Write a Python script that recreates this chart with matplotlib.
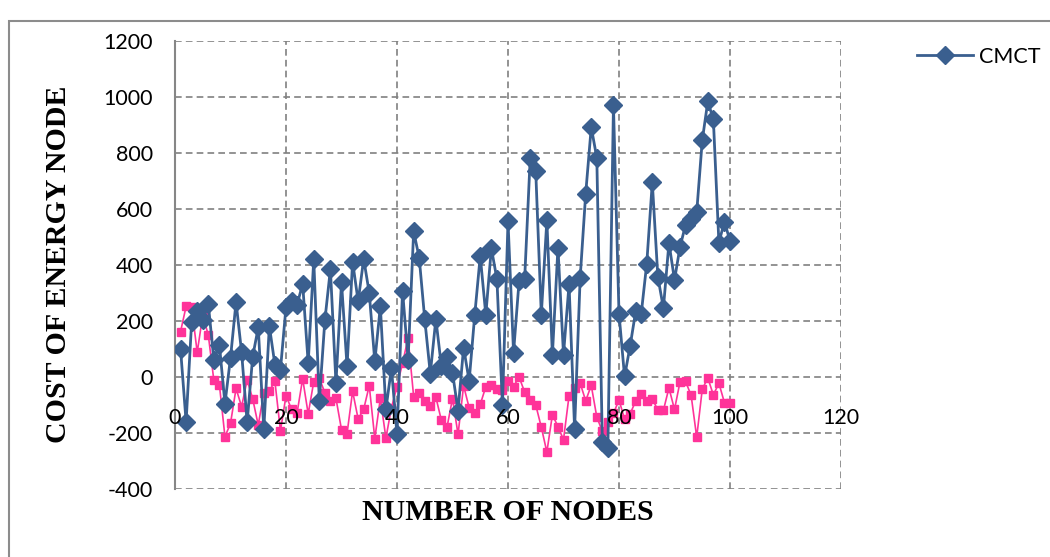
import matplotlib
matplotlib.use('Agg')
import matplotlib.pyplot as plt
from matplotlib.patches import Rectangle

plt.rcParams['axes.unicode_minus'] = False

# node numbers
nodes = list(range(1, 101))

# CMCT series (blue diamonds)
cmct = [100, -160, 198, 237, 205, 260, 62, 115, -95, 68,
        268, 88, -162, 73, 177, -186, 182, 44, 26, 250,
        273, 258, 333, 49, 420, -86, 202, 385, -21, 338,
        38, 412, 270, 422, 300, 56, 252, -115, 32, -205,
        308, 62, 520, 426, 206, 12, 207, 38, 72, 15,
        -120, 105, -14, 220, 432, 222, 460, 350, -100, 556,
        87, 344, 350, 781, 734, 223, 559, 79, 462, 80,
        331, -186, 354, 655, 892, 783, -233, -252, 970, 226,
        2, 110, 234, 225, 405, 695, 358, 246, 479, 347,
        465, 544, 565, 588, 845, 984, 920, 480, 555, 486]

# second series (pink squares, no legend entry)
other = [162, 252, 250, 88, 220, 150, -12, -28, -213, -166,
         -41, -106, -10, -78, -172, -56, -50, -15, -192, -67,
         -115, -128, -6, -132, -17, -4, -56, -86, -76, -188,
         -202, -51, -150, -115, -31, -220, -76, -218, -110, -34,
         50, 139, -70, -57, -86, -105, -72, -155, -180, -77,
         -205, -31, -110, -127, -98, -35, -28, -44, -46, -16,
         -34, 0, -54, -82, -100, -179, -268, -135, -177, -224,
         -67, -40, -22, -85, -30, -143, -194, -160, -130, -82,
         -150, -132, -86, -62, -86, -77, -119, -119, -39, -116,
         -17, -16, -66, -215, -44, -3, -64, -22, -92, -92]

x_ticks = [0, 20, 40, 60, 80, 100, 120]
y_ticks = [-400, -200, 0, 200, 400, 600, 800, 1000, 1200]

fig = plt.figure(figsize=(10.5, 5.57), dpi=100)
ax = fig.add_axes([175/1050, 1 - 489/557, 666/1050, 448/557])

# outer chart border
fig.patches.append(Rectangle((9/1050, -0.1), 1.2, 1 - 21/557 + 0.1, transform=fig.transFigure,
                             fill=False, edgecolor='#8c8c8c', lw=1.5))

ax.plot(nodes, other, color='#ff3399', lw=1.2, marker='s', ms=6,
        mec='#ff3399', mfc='#ff3399', label='_nolegend_', zorder=3)
ax.plot(nodes, cmct, color='#3a5f8f', lw=2, marker='D', ms=9.5,
        mec='#3a5f8f', mfc='#3a5f8f', label='CMCT', zorder=4)

ax.set_xlim(0, 120)
ax.set_ylim(-400, 1200)
ax.set_xticks(x_ticks)
ax.set_yticks(y_ticks)
ax.set_xticklabels([])

# dashed grid also forms the plot area border
ax.grid(True, color='#808080', linestyle=(0, (4, 2.5)), lw=1.2)
ax.set_axisbelow(True)
for s in ['top', 'right', 'bottom']:
    ax.spines[s].set_visible(False)
ax.spines['left'].set_color('#868686')
ax.spines['left'].set_linewidth(1.5)

ax.tick_params(axis='both', length=0, labelsize=15.5)
ax.tick_params(axis='y', pad=16)
for lbl in ax.get_yticklabels():
    lbl.set_fontfamily('Lato')

# x tick labels sit below the zero line, drawn over the series
for t in x_ticks:
    ax.annotate(str(t), xy=(t, 0), xytext=(0, -22), textcoords='offset points',
                ha='center', va='top', family='Lato', fontsize=15.5, zorder=6,
                annotation_clip=False)

fig.text(59/1050, 1 - 264/557, 'COST OF ENERGY NODE', rotation=90, ha='center', va='center',
         family='Liberation Serif', fontweight='bold', fontsize=21.5)
fig.text(508/1050, 1 - 513/557, 'NUMBER OF NODES', ha='center', va='center',
         family='Liberation Serif', fontweight='bold', fontsize=21.5)

ax.legend(loc='upper left', bbox_to_anchor=(908/1050, 1 - 38/557), bbox_transform=fig.transFigure,
          frameon=False, prop={'family': 'Lato', 'size': 15.5}, handlelength=2.6,
          handletextpad=0.3, borderaxespad=0)

fig.savefig('out.png', dpi=100)
